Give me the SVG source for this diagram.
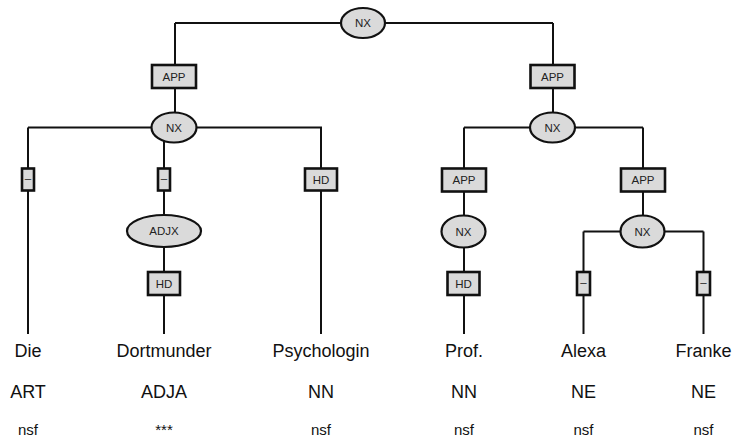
<svg xmlns="http://www.w3.org/2000/svg" width="734" height="441" viewBox="0 0 734 441">
<style>
.e{fill:#dadada;stroke:#111;stroke-width:2.2}
.b{fill:#dadada;stroke:#111;stroke-width:2.6}
.l{fill:none;stroke:#111;stroke-width:2}
.t{font-family:"Liberation Sans",Arial,sans-serif;font-size:11.5px;fill:#222;text-anchor:middle}
.w{font-family:"Liberation Sans",Arial,sans-serif;font-size:18px;fill:#111;text-anchor:middle}
.s{font-family:"Liberation Sans",Arial,sans-serif;font-size:15px;fill:#111;text-anchor:middle}
</style>
<rect width="734" height="441" fill="#fff"/>
<g id="connectors">
<path class="l" d="M175,23H553M175,23V128M553,23V128"/>
<path class="l" d="M28,127.5H322M28,127.5V334M164,127.5V334M321,127.5V334"/>
<path class="l" d="M464,127.5H643M464,127.5V334M643,127.5V231.5"/>
<path class="l" d="M583.5,231.5H703.5M583.5,231.5V334M703.5,231.5V334"/>
</g>
<g id="nx-top"><ellipse class="e" cx="363" cy="23" rx="22" ry="15"/><text class="t" x="363" y="27">NX</text></g>
<g id="app-left"><rect class="b" x="152" y="65" width="44" height="23"/><text class="t" x="174" y="80.5">APP</text></g>
<g id="app-right"><rect class="b" x="530.5" y="65" width="44" height="23"/><text class="t" x="552.5" y="80.5">APP</text></g>
<g id="nx-left"><ellipse class="e" cx="174" cy="127.5" rx="22.5" ry="15"/><text class="t" x="174" y="131.5">NX</text></g>
<g id="nx-right"><ellipse class="e" cx="552.5" cy="127.5" rx="22.5" ry="15"/><text class="t" x="552.5" y="131.5">NX</text></g>
<g id="dash-die"><rect class="b" x="22" y="168.5" width="12" height="22"/><text class="t" x="28" y="182">–</text></g>
<g id="dash-dort"><rect class="b" x="158" y="168.5" width="12" height="22"/><text class="t" x="164" y="182">–</text></g>
<g id="hd-psych"><rect class="b" x="305" y="168.5" width="32" height="22"/><text class="t" x="321" y="183.5">HD</text></g>
<g id="adjx"><ellipse class="e" cx="164" cy="231" rx="37" ry="16"/><text class="t" x="164" y="235">ADJX</text></g>
<g id="hd-dort"><rect class="b" x="148" y="272" width="32" height="23"/><text class="t" x="164" y="287.5">HD</text></g>
<g id="app-prof"><rect class="b" x="442" y="168.5" width="44" height="23"/><text class="t" x="464" y="184">APP</text></g>
<g id="app-name"><rect class="b" x="621" y="168.5" width="44" height="23"/><text class="t" x="643" y="184">APP</text></g>
<g id="nx-prof"><ellipse class="e" cx="463.5" cy="231.5" rx="22" ry="16"/><text class="t" x="463.5" y="235.5">NX</text></g>
<g id="nx-name"><ellipse class="e" cx="642.5" cy="231.5" rx="22" ry="16"/><text class="t" x="642.5" y="235.5">NX</text></g>
<g id="hd-prof"><rect class="b" x="447.5" y="272" width="32" height="23"/><text class="t" x="463.5" y="287.5">HD</text></g>
<g id="dash-alexa"><rect class="b" x="577" y="272" width="13" height="23"/><text class="t" x="583.5" y="286">–</text></g>
<g id="dash-franke"><rect class="b" x="697" y="272" width="13" height="23"/><text class="t" x="703.5" y="286">–</text></g>
<g id="words">
<text class="w" x="28" y="357">Die</text>
<text class="w" x="164" y="357">Dortmunder</text>
<text class="w" x="321" y="357">Psychologin</text>
<text class="w" x="464" y="357">Prof.</text>
<text class="w" x="583.5" y="357">Alexa</text>
<text class="w" x="703.5" y="357">Franke</text>
<text class="w" x="28" y="397.5">ART</text>
<text class="w" x="164" y="397.5">ADJA</text>
<text class="w" x="321" y="397.5">NN</text>
<text class="w" x="464" y="397.5">NN</text>
<text class="w" x="583.5" y="397.5">NE</text>
<text class="w" x="703.5" y="397.5">NE</text>
<text class="s" x="28" y="435">nsf</text>
<text class="s" x="164" y="435">***</text>
<text class="s" x="321" y="435">nsf</text>
<text class="s" x="464" y="435">nsf</text>
<text class="s" x="583.5" y="435">nsf</text>
<text class="s" x="703.5" y="435">nsf</text>
</g>
</svg>
